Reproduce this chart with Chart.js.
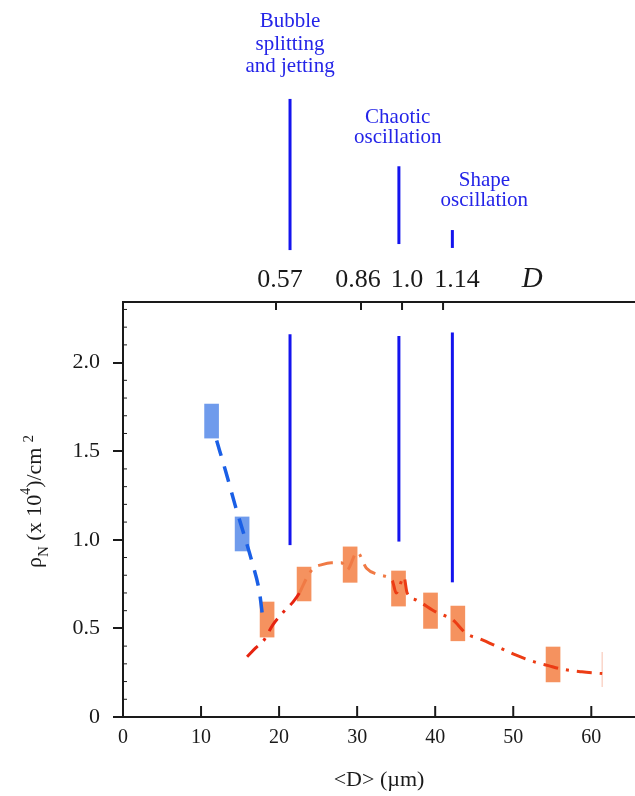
<!DOCTYPE html>
<html>
<head>
<meta charset="utf-8" />
<title>bubble density vs diameter</title>
<style>
  body { margin: 0; background: #fff; }
  .box { position: relative; width: 635px; height: 796px; }
</style>
</head>
<body>
<div class="box"><canvas id="chart"></canvas></div>

<script src="https://cdn.jsdelivr.net/npm/chart.js"></script>
<script>
// boxes (error ranges), blue group
var blueX = [11.35, 15.26];
var blueLo = [1.574, 0.937];
var blueHi = [1.766, 1.129];

// boxes, orange group
var orangeX = [18.46, 23.2, 29.1, 35.3, 39.4, 42.9, 55.1];
var orangeLo = [0.451, 0.655, 0.76, 0.626, 0.50, 0.43, 0.198];
var orangeHi = [0.649, 0.846, 0.96, 0.824, 0.70, 0.626, 0.395];

// last faint error bar
var endX = [61.4];
var endLo = [0.169];
var endHi = [0.367];

// dashed fit curves
var blueCurveX = [12.0, 13.2, 14.4, 15.5, 16.5, 17.5, 17.9];
var blueCurveY = [1.56, 1.38, 1.19, 1.03, 0.88, 0.70, 0.56];

var redCurveX = [15.9, 17.0, 18.0, 19.2, 20.5, 21.8, 22.6, 23.6, 24.4, 25.5, 26.7, 28.0, 28.7, 30.0, 31.2, 33.0, 34.5, 35.0, 36.0, 36.4, 37.6, 40.2, 42.2, 44.0, 45.8, 48.3, 50.3, 52.8, 54.5, 56.3, 58.8, 61.4];
var redCurveY = [0.34, 0.39, 0.43, 0.52, 0.59, 0.65, 0.70, 0.79, 0.84, 0.86, 0.87, 0.87, 0.83, 0.93, 0.84, 0.80, 0.77, 0.70, 0.79, 0.70, 0.66, 0.59, 0.55, 0.47, 0.44, 0.39, 0.35, 0.31, 0.29, 0.27, 0.255, 0.245];

// regime markers (inside plot and the stubs above it)
var regimeX = [21.4, 35.35, 42.2];
var regimeLo = [0.97, 0.99, 0.76];
var regimeHi = [2.16, 2.15, 2.17];
var stubLo = [2.635, 2.669, 2.647];
var stubHi = [3.488, 3.108, 2.748];
var regimeNames = [["Bubble", "splitting", "and jetting"], ["Chaotic", "oscillation"], ["Shape", "oscillation"]];
var regimeTextX = [21.4, 35.2, 46.3];

// top axis (normalised D): tick values and where their labels sit (in <D> units)
var dTicks = [0.57, 0.86, 1.0, 1.14];
var dLabels = ["0.57", "0.86", "1.0", "1.14"];
var dLabelAt = [20.1, 30.1, 36.4, 42.8];

var serif = "'Liberation Serif', 'Times New Roman', serif";
var ink = "#1a1a1a";
var markBlue = "#1414ee";

function pts(xs, ys) {
  return xs.map(function (v, i) { return { x: v, y: ys[i] }; });
}

var boxData = [];
var boxColors = [];
blueX.forEach(function (v, i) {
  boxData.push({ x: v, y: [blueLo[i], blueHi[i]] });
  boxColors.push("#6f9bec");
});
orangeX.forEach(function (v, i) {
  boxData.push({ x: v, y: [orangeLo[i], orangeHi[i]] });
  boxColors.push("#f5925f");
});

var datasets = [
  {
    type: "bar",
    data: boxData,
    backgroundColor: boxColors,
    borderWidth: 0,
    barThickness: 14,
    order: 3,
  },
  {
    type: "line",
    data: [{ x: endX[0], y: endLo[0] }, { x: endX[0], y: endHi[0] }],
    borderColor: "rgba(240,150,120,0.4)",
    borderWidth: 1.5,
    pointRadius: 0,
    order: 3,
  },
  {
    type: "line",
    data: pts(blueCurveX, blueCurveY),
    borderColor: "#1a5fe6",
    borderWidth: 3.5,
    borderDash: [16, 11],
    pointRadius: 0,
    cubicInterpolationMode: "monotone",
    order: 1,
  },
  {
    type: "line",
    data: pts(redCurveX, redCurveY),
    borderColor: "#ec3c14",
    borderWidth: 3,
    borderDash: [15, 8, 3, 8],
    pointRadius: 0,
    cubicInterpolationMode: "monotone",
    segment: {
      borderColor: function (c) {
        var xv = c.p0.parsed.x;
        if (xv < 22) return "#e62410";
        if (xv < 34) return "#f07a45";
        return "#ec3c14";
      },
    },
    order: 1,
  },
];

// vertical regime lines
regimeX.forEach(function (v, i) {
  datasets.push({
    type: "line",
    data: [{ x: v, y: regimeLo[i] }, { x: v, y: regimeHi[i] }],
    borderColor: markBlue,
    borderWidth: 3,
    pointRadius: 0,
    order: 0,
  });
  datasets.push({
    type: "line",
    data: [{ x: v, y: stubLo[i] }, { x: v, y: stubHi[i] }],
    borderColor: markBlue,
    borderWidth: 3,
    pointRadius: 0,
    clip: false,
    order: 0,
  });
});

var decor = {
  id: "decor",
  afterDraw: function (chart) {
    var ctx = chart.ctx;
    var a = chart.chartArea;
    var x = chart.scales.x, y = chart.scales.y, x2 = chart.scales.x2;
    ctx.save();
    ctx.strokeStyle = ink;

    // inward ticks on bottom and top axes
    ctx.lineWidth = 2;
    x.ticks.forEach(function (t) {
      if (t.value === 0) return;
      var px = x.getPixelForValue(t.value);
      ctx.beginPath(); ctx.moveTo(px, a.bottom); ctx.lineTo(px, a.bottom - 11); ctx.stroke();
    });
    x2.ticks.forEach(function (t) {
      var px = x2.getPixelForValue(t.value);
      ctx.beginPath(); ctx.moveTo(px, a.top); ctx.lineTo(px, a.top + 8); ctx.stroke();
    });

    // minor y ticks
    ctx.lineWidth = 1;
    for (var k = 1; k * 0.1 < y.max; k++) {
      if (k % 5 === 0) continue;
      var py = y.getPixelForValue(k * 0.1);
      ctx.beginPath(); ctx.moveTo(a.left, py); ctx.lineTo(a.left + 4, py); ctx.stroke();
    }

    // top axis labels
    ctx.fillStyle = ink;
    ctx.font = "26px " + serif;
    ctx.textAlign = "center";
    ctx.textBaseline = "middle";
    dLabels.forEach(function (s, i) {
      ctx.fillText(s, x.getPixelForValue(dLabelAt[i]), 280);
    });
    ctx.font = "italic 29px " + serif;
    ctx.fillText("D", x2.getPixelForValue(1.444), 279);

    // regime names
    var baselines = [27, 123, 186];
    var gaps = [22.7, 19.5, 20];
    ctx.fillStyle = "#2424e8";
    ctx.font = "21px " + serif;
    ctx.textBaseline = "alphabetic";
    regimeNames.forEach(function (lines, i) {
      var cx = x.getPixelForValue(regimeTextX[i]);
      lines.forEach(function (s, j) {
        ctx.fillText(s, cx, baselines[i] + j * gaps[i]);
      });
    });

    // y title with sub/superscripts
    var parts = [
      { t: "\u03c1", size: 22, base: 41, gap: 0 },
      { t: "N", size: 15, base: 48, gap: 0 },
      { t: " (x 10", size: 22, base: 41, gap: 0 },
      { t: "4", size: 14, base: 30, gap: 0 },
      { t: ")/cm", size: 22, base: 41, gap: 0 },
      { t: "2", size: 15, base: 33, gap: 5 },
    ];
    ctx.fillStyle = ink;
    ctx.rotate(-Math.PI / 2);
    ctx.textAlign = "left";
    var pos = -568;
    parts.forEach(function (p) {
      pos += p.gap;
      ctx.font = p.size + "px " + serif;
      ctx.fillText(p.t, pos, p.base);
      pos += ctx.measureText(p.t).width;
    });
    ctx.restore();
  },
};

new Chart(document.getElementById("chart"), {
  type: "bar",
  data: { datasets: datasets },
  options: {
    responsive: true,
    maintainAspectRatio: false,
    animation: false,
    layout: { padding: 0 },
    plugins: { legend: { display: false }, tooltip: { enabled: false } },
    scales: {
      x: {
        type: "linear",
        position: "bottom",
        min: 0,
        max: 65.6,
        offset: false,
        grid: { display: false, drawTicks: false, offset: false },
        border: { display: true, color: ink, width: 2 },
        ticks: {
          stepSize: 10,
          includeBounds: false,
          padding: 9,
          color: ink,
          font: { family: serif, size: 20 },
        },
        title: {
          display: true,
          text: "<D> (\u00b5m)",
          color: ink,
          font: { family: serif, size: 22 },
          padding: { top: 0, bottom: 3 },
        },
        afterFit: function (s) { s.height = 79; },
      },
      x2: {
        type: "linear",
        position: "top",
        min: 0.0478,
        max: 1.795,
        offset: false,
        grid: { display: false, drawTicks: false },
        border: { display: true, color: ink, width: 2 },
        afterBuildTicks: function (s) {
          s.ticks = dTicks.map(function (v) { return { value: v }; });
        },
        ticks: { display: false },
        afterFit: function (s) { s.height = 302; },
      },
      y: {
        min: 0,
        max: 2.342,
        stacked: false,
        grid: { display: true, drawOnChartArea: false, drawTicks: true, tickLength: 10, color: ink, lineWidth: 2 },
        border: { display: true, color: ink, width: 2 },
        ticks: {
          stepSize: 0.5,
          includeBounds: false,
          padding: 13,
          color: ink,
          font: { family: serif, size: 22 },
          callback: function (v) { return v === 0 ? "0" : v.toFixed(1); },
        },
        afterFit: function (s) { s.width = 123; },
      },
    },
  },
  plugins: [decor],
});
</script>
</body>
</html>
